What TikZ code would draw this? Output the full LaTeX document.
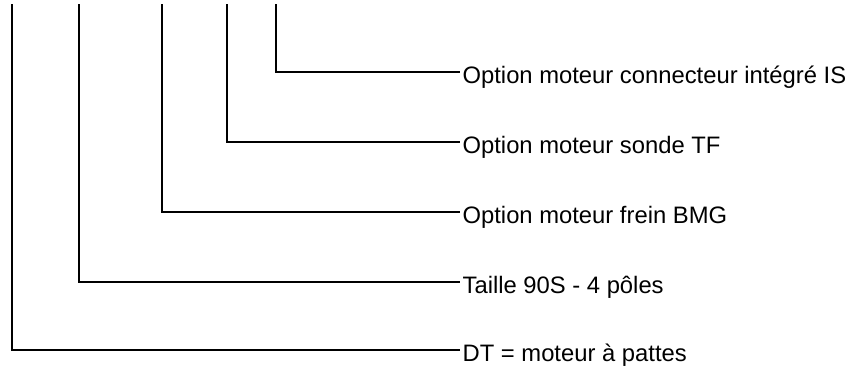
\documentclass[tikz,border=0pt]{standalone}
\usepackage{fontspec}
\setmainfont{Liberation Sans}
\usepackage{tikz}

\begin{document}
\begin{tikzpicture}[x=0.5pt, y=-0.5pt, line width=0.6pt, every node/.style={anchor=west, inner xsep=1pt, inner ysep=0pt, text height=11pt, text depth=0pt, font=\fontsize{11.9}{14}\selectfont}]
        \useasboundingbox (0,0) rectangle (856,365);
        \coordinate (T1) at (12,4);
        \coordinate (T2) at (79,4);
        \coordinate (T3) at (162,4);
        \coordinate (T4) at (227,4);
        \coordinate (T5) at (276,4);

        \node (L5) at (460,72) {Option moteur connecteur intégré IS};
        \node (L4) at (460,142) {Option moteur sonde TF};
        \node (L3) at (460,212) {Option moteur frein BMG};
        \node (L2) at (460,282) {Taille 90S - 4 pôles};
        \node (L1) at (460,350) {DT = moteur à pattes};

        \draw (T5) |- (L5.west);
        \draw (T4) |- (L4.west);
        \draw (T3) |- (L3.west);
        \draw (T2) |- (L2.west);
        \draw (T1) |- (L1.west);
    \end{tikzpicture}
\end{document}
